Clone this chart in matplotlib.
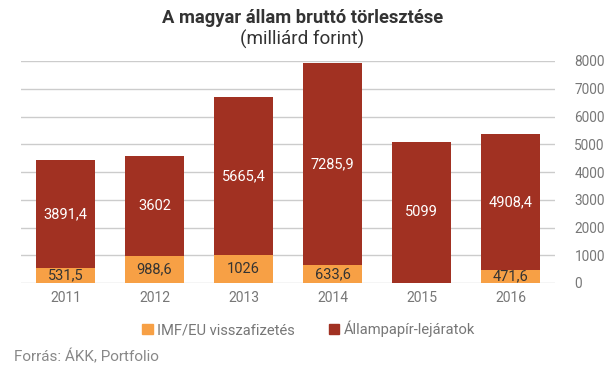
import matplotlib
matplotlib.use('Agg')
import matplotlib.pyplot as plt
from matplotlib.patches import Patch

years = ['2011', '2012', '2013', '2014', '2015', '2016']
imf_eu = [531.5, 988.6, 1026, 633.6, 0, 471.6]
allampapir = [3891.4, 3602, 5665.4, 7285.9, 5099, 4908.4]
imf_labels = ['531,5', '988,6', '1026', '633,6', '', '471,6']
allam_labels = ['3891,4', '3602', '5665,4', '7285,9', '5099', '4908,4']

plt.rcParams['font.family'] = ['Roboto', 'DejaVu Sans']

orange = '#F7A045'
red = '#A13122'
grey = '#777777'

fig = plt.figure(figsize=(6.05, 3.78), dpi=100)
ax = fig.add_axes([21 / 605, 1 - 283 / 378, 534 / 605, 222 / 378])

x = range(len(years))
ax.bar(x, imf_eu, width=0.66, color=orange, zorder=3)
ax.bar(x, allampapir, width=0.66, bottom=imf_eu, color=red, zorder=3)

# value labels in the middle of each segment
for i in x:
    if imf_labels[i]:
        ax.text(i, imf_eu[i] / 2, imf_labels[i], ha='center', va='center',
                color='#333333', fontsize=10.5, zorder=4)
    ax.text(i, imf_eu[i] + allampapir[i] / 2, allam_labels[i], ha='center',
            va='center', color='white', fontsize=10.5, zorder=4)

ax.set_xlim(-0.5, 5.5)
ax.set_ylim(0, 8000)
ax.set_yticks(range(0, 8001, 1000))
ax.yaxis.tick_right()
ax.set_xticks(list(x))
ax.set_xticklabels(years)
ax.tick_params(axis='both', length=0, colors=grey, labelsize=10)
ax.tick_params(axis='y', pad=14, labelsize=9.8)
ax.tick_params(axis='x', pad=6)
ax.grid(axis='y', color='#cccccc', linewidth=1, zorder=0)
for s in ax.spines.values():
    s.set_visible(False)

fig.text(0.5, 1 - 18 / 378, 'A magyar állam bruttó törlesztése', ha='center',
         va='center', fontsize=13.2, fontweight='bold', color='#333333')
fig.text(0.5, 1 - 39 / 378, '(milliárd forint)', ha='center', va='center',
         fontsize=13.6, color='#333333')

handles = [Patch(color=orange, label='IMF/EU visszafizetés'),
           Patch(color=red, label='Állampapír-lejáratok')]
fig.legend(handles=handles, loc='center', bbox_to_anchor=(0.51, 1 - 329 / 378),
           ncol=2, frameon=False, fontsize=10.6, handlelength=0.7,
           handleheight=0.7, handletextpad=0.3, columnspacing=2.3,
           labelcolor=grey)

fig.text(14 / 605, 1 - 357 / 378, 'Forrás: ÁKK, Portfolio', ha='left',
         va='center', fontsize=11, color='#888888')

fig.savefig('out.png', dpi=100)
